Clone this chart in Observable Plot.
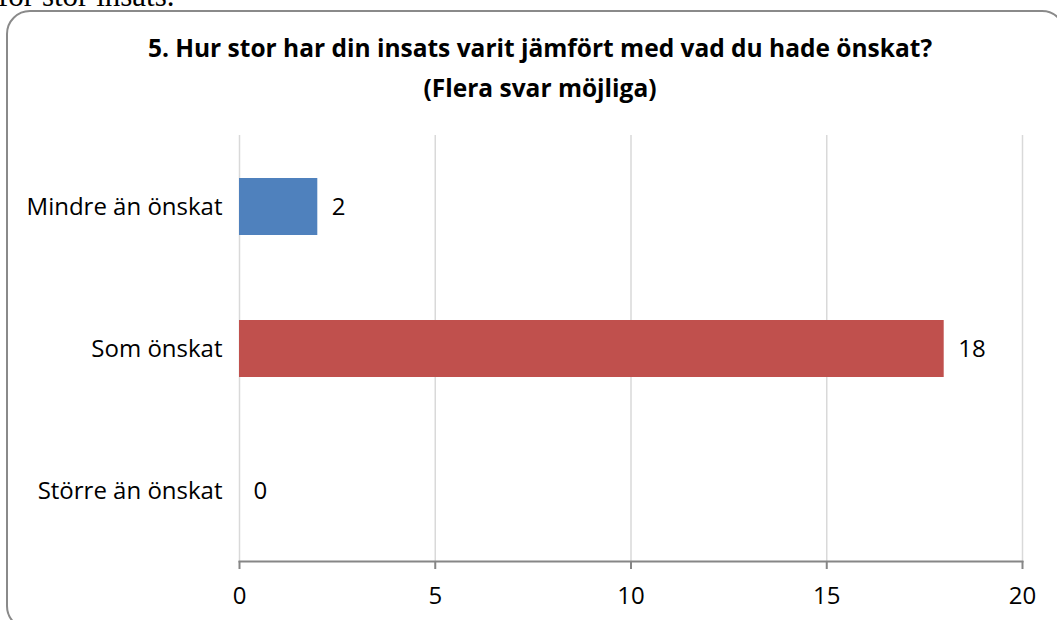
<!DOCTYPE html>
<html>
<head>
<meta charset="utf-8">
<script src="https://cdn.jsdelivr.net/npm/d3@7"></script>
<script src="https://cdn.jsdelivr.net/npm/@observablehq/plot@0.6"></script>
<style>
  html, body { margin: 0; padding: 0; background: #fff; }
  #wrap { position: relative; width: 1057px; height: 620px; overflow: hidden; background: #fff; }
  #above { position: absolute; left: -2px; top: -20px; font-family: "Liberation Serif", "DejaVu Serif", serif; font-size: 31px; color: #000; white-space: nowrap; line-height: 1; }
  #box { position: absolute; left: 6px; top: 10px; width: 1060px; height: 620px; border: 2px solid #8a8a8a; border-radius: 24px; box-sizing: border-box; }
  #title { position: absolute; left: 40px; width: 1000px; top: 28px; text-align: center; font-family: "Open Sans", sans-serif; font-weight: bold; font-size: 24.5px; line-height: 40px; color: #000; }
  #chart { position: absolute; left: 0; top: 0; }
</style>
</head>
<body>
<div id="wrap">
  <div id="above">för stor insats.</div>
  <div id="box"></div>
  <div id="title">5. Hur stor har din insats varit jämfört med vad du hade önskat?<br>(Flera svar möjliga)</div>
  <div id="chart"></div>
</div>
<script>
const categories = ["Mindre än önskat", "Som önskat", "Större än önskat"];
const values = [2, 18, 0];
const colors = ["#4F81BD", "#C0504D", "#9BBB59"];
const ticks = [0, 5, 10, 15, 20];

const data = categories.map((c, i) => ({category: c, value: values[i], color: colors[i]}));

const chart = Plot.plot({
  width: 1057,
  height: 620,
  marginLeft: 239,
  marginRight: 35,
  marginTop: 135,
  marginBottom: 59,
  style: {fontFamily: "'Open Sans', sans-serif", fontSize: "20px", background: "transparent", color: "#000"},
  x: {domain: [0, 20], ticks: ticks},
  y: {domain: categories, paddingInner: 0.6, paddingOuter: 0.3},
  marks: [
    Plot.ruleX(ticks, {stroke: "#d9d9d9", strokeWidth: 1.5}),
    Plot.barX(data, {x: "value", y: "category", fill: "color"}),
    Plot.frame({anchor: "bottom", stroke: "#868686", strokeWidth: 2}),
    Plot.axisX({ticks: ticks, tickSize: 8, tickPadding: 17, stroke: "#868686", strokeWidth: 2, label: null, fontSize: 24, fill: "#000"}),
    Plot.axisY({tickSize: 0, tickPadding: 17, label: null, fontSize: 24, fill: "#000"}),
    Plot.text(data, {x: "value", y: "category", text: d => String(d.value), textAnchor: "start", dx: 14, fontSize: 24, fill: "#000"})
  ]
});
document.getElementById("chart").appendChild(chart);
</script>
</body>
</html>
